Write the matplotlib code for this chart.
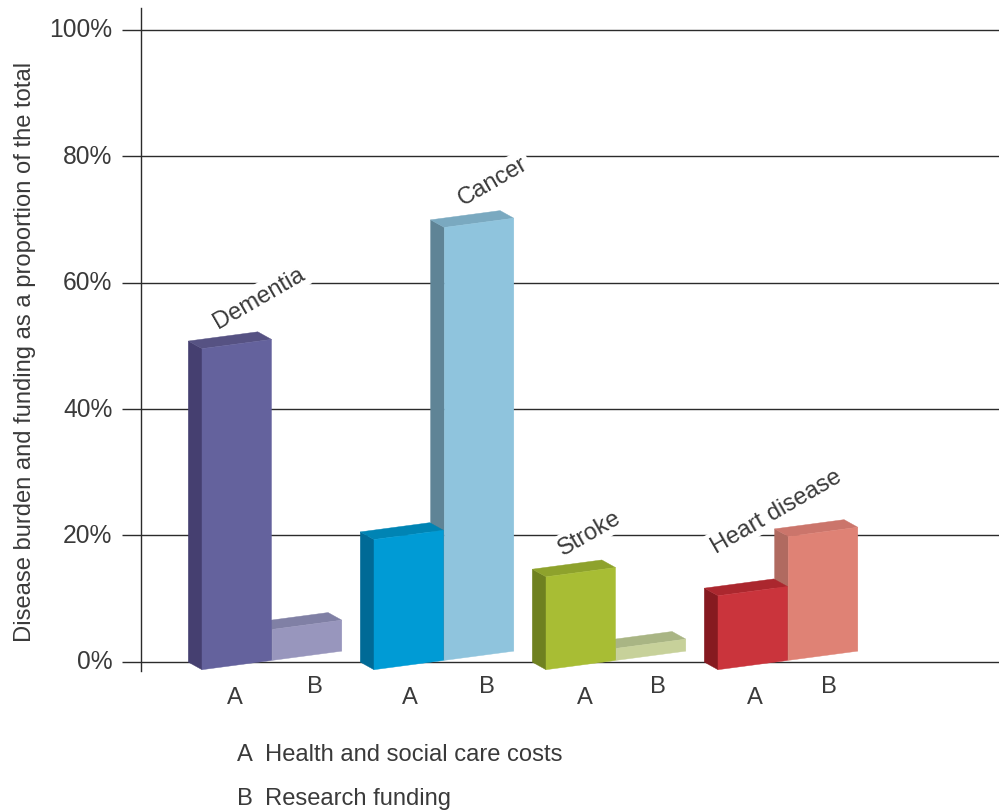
import matplotlib
matplotlib.use("Agg")
import matplotlib.pyplot as plt
from matplotlib.patches import Polygon
from matplotlib.transforms import ScaledTranslation

# Disease burden and research funding, percent of total
diseases = ["Dementia", "Cancer", "Stroke", "Heart disease"]
costs_share = [50.8, 20.6, 14.7, 11.7]
funding_share = [4.9, 68.5, 1.9, 19.6]
percent_ticks = [0, 20, 40, 60, 80, 100]
tick_labels = ["0%", "20%", "40%", "60%", "80%", "100%"]
legend_rows = [("A", "Health and social care costs"), ("B", "Research funding")]

# Face colours per disease: front, side, top
costs_colours = [
    ("#64629d", "#453f70", "#565283"),
    ("#009bd5", "#006a96", "#0084b4"),
    ("#a8bd34", "#6f8120", "#8ea22c"),
    ("#ca343c", "#861a20", "#ab272e"),
]
funding_colours = [
    ("#9896bd", "#8080a5", "#8080a5"),
    ("#8fc4dd", "#5f8496", "#7aa9c0"),
    ("#c7d19a", "#a9b584", "#a9b584"),
    ("#df8275", "#b06a60", "#cb756b"),
]

# Layout, with the x axis in pixels and 6.32 pixels to one percent
PX_PER_PCT = 6.32
GROUP_START = 202
GROUP_PITCH = 172
BAR_WIDTH = 69.5
BAR_GAP = 0.8
DEPTH_X = 13.7
DEPTH_Y = 7.6 / PX_PER_PCT
SHEAR = (9.3 / 70) / PX_PER_PCT
BASE_DROP = 8.0 / PX_PER_PCT
TEXT = "#3a3a3a"
LINE = "#2b2b2b"
FONT = ["Liberation Sans", "DejaVu Sans"]
TEXT_SIZE = 17.1

plt.rcParams["font.family"] = FONT

fig = plt.figure(figsize=(9.99, 8.12), dpi=100)
ax = fig.add_axes([141 / 999, (812 - 671.7) / 812, 858 / 999, 663 / 812])
ax.set_xlim(141, 999)
ax.set_ylim((662 - 671) / PX_PER_PCT, (662 - 8) / PX_PER_PCT)

for side in ("top", "right", "bottom"):
    ax.spines[side].set_visible(False)
ax.spines["left"].set_color(LINE)
ax.spines["left"].set_linewidth(1.0)

ax.set_xticks([])
ax.set_yticks(percent_ticks, tick_labels)
ax.tick_params(axis="y", length=13.7, width=1.0, color=LINE, pad=7,
               labelsize=17.7, labelcolor=TEXT)
ax.yaxis.grid(True, color=LINE, linewidth=1.0)
ax.set_axisbelow(True)

# Percent labels sit slightly above their grid lines
lift = ScaledTranslation(0, 2 / 72, fig.dpi_scale_trans)
for label in ax.get_yticklabels():
    label.set_transform(label.get_transform() + lift)

ax.set_ylabel("Disease burden and funding as a proportion of the total",
              fontsize=TEXT_SIZE, color=TEXT)
ax.yaxis.set_label_coords((36 - 141) / 858, (671 - 351) / 663)


def draw_block(left, group_left, value, colours):
    """Draw one sheared 3D block whose front face starts at x=left."""
    front, side, top = colours
    right = left + BAR_WIDTH
    base_l = -BASE_DROP + SHEAR * (left - group_left)
    base_r = -BASE_DROP + SHEAR * (right - group_left)
    top_l = base_l + value
    top_r = base_r + value
    faces = [
        ([(left, base_l), (left - DEPTH_X, base_l + DEPTH_Y),
          (left - DEPTH_X, top_l + DEPTH_Y), (left, top_l)], side),
        ([(left, top_l), (left - DEPTH_X, top_l + DEPTH_Y),
          (right - DEPTH_X, top_r + DEPTH_Y), (right, top_r)], top),
        ([(left, base_l), (right, base_r), (right, top_r), (left, top_l)], front),
    ]
    for verts, colour in faces:
        ax.add_patch(Polygon(verts, closed=True, facecolor=colour,
                             edgecolor=colour, linewidth=0.3,
                             clip_on=False, zorder=3))


for i in range(len(diseases)):
    group_left = GROUP_START + GROUP_PITCH * i
    draw_block(group_left + BAR_WIDTH + BAR_GAP, group_left, funding_share[i],
               funding_colours[i])
    draw_block(group_left, group_left, costs_share[i], costs_colours[i])

# Rotated disease names knock a small gap out of the grid lines
name_centres = [(259, 298), (493, 181), (590, 533), (776, 511)]
for name, (px, py) in zip(diseases, name_centres):
    ax.text(px, (662 - py) / PX_PER_PCT, name, rotation=30, ha="center",
            va="center", rotation_mode="anchor", fontsize=TEXT_SIZE, color=TEXT,
            bbox=dict(facecolor="white", edgecolor="none", pad=2.0), zorder=2.6)

# Series letters under each block
a_label_x = [235, 410, 585, 755]
b_label_x = [315, 487, 658, 829]
for x in a_label_x:
    ax.text(x, (662 - 697) / PX_PER_PCT, "A", ha="center", va="center",
            fontsize=TEXT_SIZE, color=TEXT, clip_on=False)
for x in b_label_x:
    ax.text(x, (662 - 686) / PX_PER_PCT, "B", ha="center", va="center",
            fontsize=TEXT_SIZE, color=TEXT, clip_on=False)

# Key written under the chart
for (letter, meaning), py in zip(legend_rows, (755, 799)):
    fig.text(237 / 999, 1 - py / 812, letter, ha="left", va="center",
             fontsize=TEXT_SIZE, color=TEXT)
    fig.text(265 / 999, 1 - py / 812, meaning, ha="left", va="center",
             fontsize=TEXT_SIZE, color=TEXT)

fig.savefig("out.png", dpi=100, facecolor="white")
